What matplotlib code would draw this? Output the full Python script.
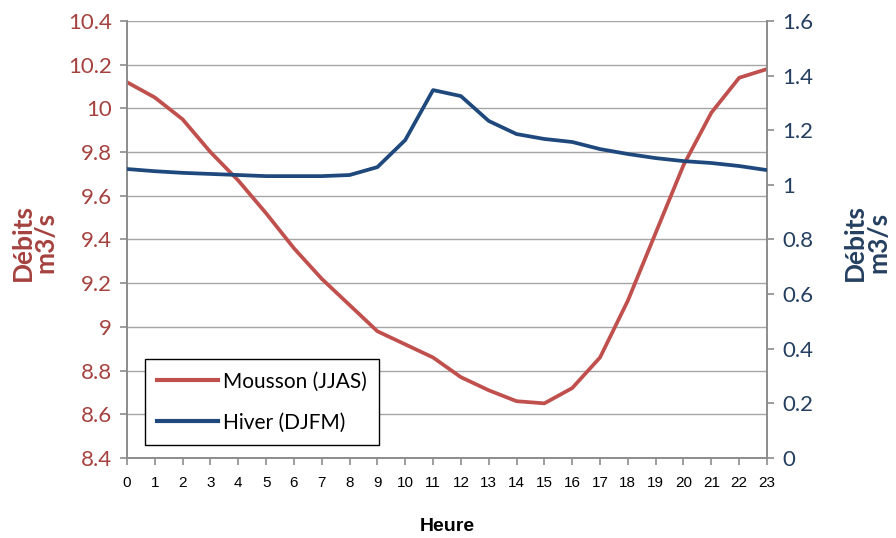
import matplotlib.pyplot as plt
from matplotlib.lines import Line2D

# Données
heures = list(range(24))
mousson = [10.12, 10.05, 9.95, 9.80, 9.67, 9.52, 9.36, 9.22, 9.10, 8.98, 8.92, 8.86,
           8.77, 8.71, 8.66, 8.65, 8.72, 8.86, 9.12, 9.43, 9.74, 9.98, 10.14, 10.18]
hiver = [1.058, 1.050, 1.044, 1.040, 1.036, 1.032, 1.032, 1.032, 1.036, 1.065, 1.164, 1.347,
         1.325, 1.234, 1.186, 1.168, 1.157, 1.131, 1.113, 1.098, 1.087, 1.080, 1.069, 1.054]
ticks_gauche = [8.4, 8.6, 8.8, 9.0, 9.2, 9.4, 9.6, 9.8, 10.0, 10.2, 10.4]
labels_gauche = ["8.4", "8.6", "8.8", "9", "9.2", "9.4", "9.6", "9.8", "10", "10.2", "10.4"]
ticks_droite = [0, 0.2, 0.4, 0.6, 0.8, 1.0, 1.2, 1.4, 1.6]
labels_droite = ["0", "0.2", "0.4", "0.6", "0.8", "1", "1.2", "1.4", "1.6"]

rouge = "#C0504D"
bleu = "#1F497D"
rouge_txt = "#A5423F"
bleu_txt = "#243F60"
gris = "#8C8C8C"

fig = plt.figure(figsize=(8.96, 5.38), dpi=100)
ax = fig.add_axes([0.1417, 0.1487, 0.7143, 0.8123])
ax2 = ax.twinx()

ax.plot(heures, mousson, color=rouge, lw=2.7, solid_capstyle="round", zorder=3)
ax2.plot(heures, hiver, color=bleu, lw=2.7, solid_capstyle="round", zorder=3)

ax.set_xlim(0, 23)
ax.set_ylim(8.4, 10.4)
ax2.set_ylim(0, 1.6)

ax.set_yticks(ticks_gauche)
ax.set_yticklabels(labels_gauche, fontsize=16, color=rouge_txt, family="Lato")
ax2.set_yticks(ticks_droite)
ax2.set_yticklabels(labels_droite, fontsize=16, color=bleu_txt, family="Lato")
ax.set_xticks(heures)
ax.set_xticklabels([str(h) for h in heures], fontsize=11, family="Liberation Sans")

ax.grid(axis="y", color="#A6A6A6", lw=1)
ax.set_axisbelow(True)

for a in (ax, ax2):
    a.spines["top"].set_visible(False)
    for s in ("left", "right", "bottom"):
        a.spines[s].set_color(gris)
        a.spines[s].set_linewidth(1.2)
ax.tick_params(axis="both", direction="out", length=5, color=gris, width=1.2)
ax.tick_params(axis="x", pad=8)
ax.tick_params(axis="y", pad=6)
ax2.tick_params(axis="y", direction="out", length=5, color=gris, width=1.2, pad=6)

ax.set_xlabel("Heure", fontsize=14, fontweight="bold", family="Liberation Sans", labelpad=20)
fig.text(0.038, 0.55, "Débits\nm3/s", rotation=90, ha="center", va="center",
         fontsize=19, fontweight="bold", color=rouge_txt, family="Lato", linespacing=0.95)
fig.text(0.967, 0.55, "Débits\nm3/s", rotation=90, ha="center", va="center",
         fontsize=19, fontweight="bold", color=bleu_txt, family="Lato", linespacing=0.95)

handles = [Line2D([0], [0], color=rouge, lw=3), Line2D([0], [0], color=bleu, lw=3)]
leg = ax.legend(handles, ["Mousson (JJAS)", "Hiver (DJFM)"], loc="lower left",
                bbox_to_anchor=(0.028, 0.03), prop={"family": "Lato", "size": 15},
                fancybox=False, framealpha=1, edgecolor="black", handlelength=2.9,
                handletextpad=0.25, labelspacing=1.0, borderpad=0.6, borderaxespad=0)
leg.get_frame().set_linewidth(1)
leg.set_zorder(5)

fig.savefig("out.png", dpi=100)
